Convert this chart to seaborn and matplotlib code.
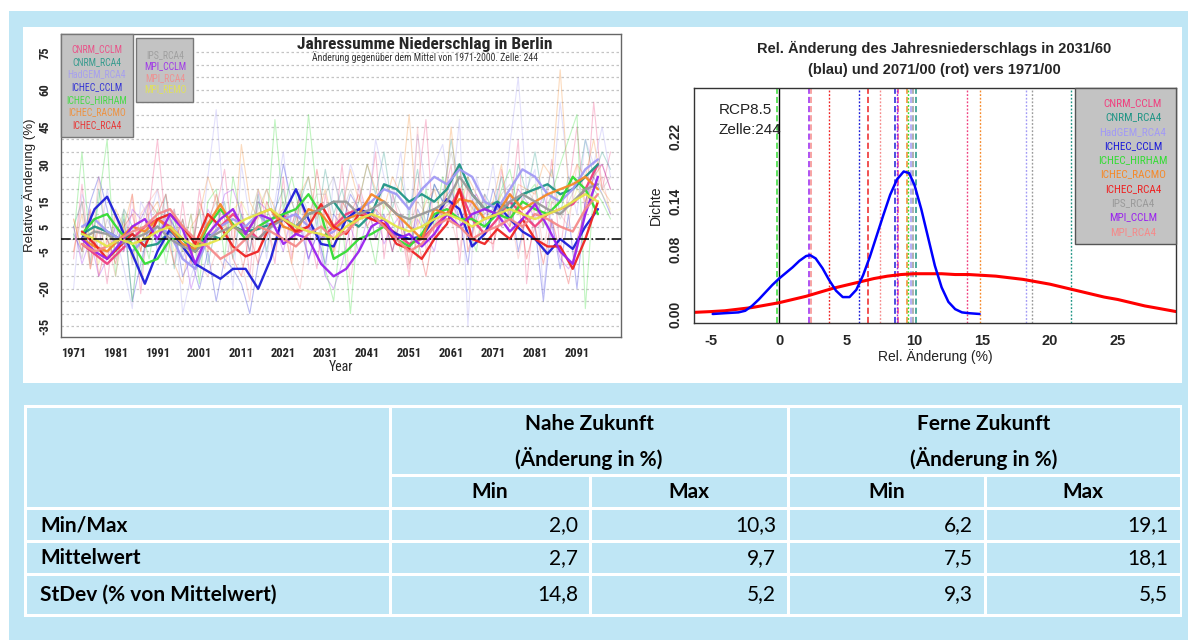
import numpy as np
import pandas as pd
import matplotlib
matplotlib.use('Agg')
import matplotlib.pyplot as plt
from matplotlib.patches import Rectangle
from matplotlib import font_manager as fm
import seaborn as sns

sns.set_style('white')
plt.rcParams['font.family'] = ['Liberation Sans', 'DejaVu Sans']
TAB = ['Lato', 'DejaVu Sans']

# schmale Schrift suchen (R-Grafiken nutzen Arial Narrow)
_namen = [f.name for f in fm.fontManager.ttflist]
NKW = dict(family=['Liberation Sans', 'DejaVu Sans'])
NSCALE = 0.86
for kand in ['Liberation Sans Narrow', 'Arial Narrow', 'Roboto Condensed', 'Open Sans Condensed']:
    if kand in _namen:
        NKW = dict(family=[kand, 'Liberation Sans'])
        NSCALE = 1.0
        break
else:
    if any(f.name == 'DejaVu Sans' and str(f.stretch) == 'condensed' for f in fm.fontManager.ttflist):
        NKW = dict(family=['DejaVu Sans'], fontstretch='condensed')
        NSCALE = 0.92

# ---------------- Daten ----------------
modelle = ['CNRM_CCLM', 'CNRM_RCA4', 'HadGEM_RCA4', 'ICHEC_CCLM', 'ICHEC_HIRHAM',
           'ICHEC_RACMO', 'ICHEC_RCA4', 'IPS_RCA4', 'MPI_CCLM', 'MPI_RCA4', 'MPI_REMO']
farben = ['#f0407f', '#1f9585', '#a29af5', '#1c1cd8', '#33dd33',
          '#f5892a', '#ee2222', '#9a9a9a', '#9a22ee', '#f58a8a', '#e6e64a']

# geglaettete Reihen (Linien, alle 3 Jahre ab 1973)
glatt_start = 1973
glatt_cnrm_cclm = [-2, -6, -10, -5, 0, 5, 8, 5, 0, -5, 0, 5, 10, 5, 0, 5, 10, 2, 5, 0, 5,
                   10, 12, 8, 6, 2, -2, 0, 5, 10, 20, 8, 2, 8, 15, 10, 5, 10, 12, 14, 20, 30]
glatt_cnrm_rca4 = [2, 5, 3, 0, 2, -3, -2, 3, 0, -5, 2, 0, 5, 3, 4, 6, 8, 5, 10, 12, 15,
                   8, 5, 10, 22, 20, 15, 18, 15, 20, 30, 18, 12, 15, 12, 18, 20, 22, 18, 20, 25, 30]
glatt_hadgem_rca4 = [5, 8, 3, 0, -5, 0, 5, 2, -8, -12, 0, 5, 8, 5, 10, 5, 8, 10, 5, 0, 3,
                     8, 12, 15, 20, 18, 12, 20, 25, 22, 28, 25, 15, 12, 20, 28, 25, 18, 15, 20, 28, 32]
glatt_ichec_cclm = [0, 12, 17, 6, -6, -18, -5, 4, -3, -10, -13, -16, -12, -12, -20, -8, 10, 20, 8, -2, -3,
                    8, 12, 10, 5, 2, 0, 1, 8, 16, 12, -3, 2, 14, 8, 3, 0, -6, 0, -4, 5, 12]
glatt_ichec_hirham = [2, 8, 10, 3, -2, -10, -8, 0, 0, -5, 5, 12, 6, 0, 5, 8, 10, 12, 18, 10, -8,
                      -5, 0, 2, 5, 0, -3, 2, 10, 12, 8, 8, 5, 10, 8, 15, 12, 10, 15, 25, 20, 10]
glatt_ichec_racmo = [0, -3, -5, 0, 5, 3, 8, 4, -2, -4, 6, 14, 5, 2, 10, 12, 5, 3, 12, 10, 4,
                     8, 10, 18, 15, 10, 5, 0, 12, 10, 16, 15, 8, 10, 18, 12, 15, 18, 20, 22, 25, 20]
glatt_ichec_rca4 = [3, -2, -8, -3, 2, -3, 8, 10, 5, -2, 10, 5, -3, -7, -5, 6, 8, 3, 5, 14, 5,
                    2, 10, 8, 6, -2, -4, -8, 0, 6, 20, 0, -2, 4, 0, 8, 0, -3, -3, -12, 0, 15]
glatt_ips_rca4 = [0, 3, 2, -2, 0, 2, 5, 0, -3, -5, 0, 3, 5, 2, 0, 5, 8, 5, 10, 12, 15,
                  15, 10, 12, 15, 10, 8, 10, 12, 15, 25, 18, 12, 10, 15, 18, 15, 12, 10, 15, 20, 22]
glatt_mpi_cclm = [0, -5, -8, -2, 5, 8, 0, 10, 4, -10, 2, 8, 12, 2, 10, 8, -2, 2, 0, -10, -15,
                  -12, -5, 5, 8, 0, 2, -3, 2, 10, 5, 10, 12, 10, 3, 8, 14, 5, -5, -10, 10, 25]
glatt_mpi_rca4 = [-2, -5, -3, 0, 3, 5, 10, 12, 5, 0, -3, -8, -5, 0, 5, 3, 0, -3, 2, 5, 0,
                  3, 8, 10, 5, 0, -5, -2, 5, 8, 5, 0, 3, 5, 8, 5, 10, 8, 5, 3, 12, 18]
glatt_mpi_remo = [2, 0, -3, 0, -2, 0, 3, 5, 0, -3, -2, 0, 5, 8, 10, 12, 8, 5, 3, 2, 0,
                  5, 8, 10, 8, 5, 3, 5, 8, 10, 8, 5, 8, 10, 12, 10, 8, 10, 12, 15, 18, 15]

# Jahreswerte (blasse Linien, alle 2 Jahre ab 1971)
roh_start = 1971
roh_cnrm_cclm = [-8, 22, -12, 5, -18, 10, -5, 18, -22, 12, 40, 5, -10, 15, -8, 20, -5, 12, 28, -2,
                 15, -15, 20, 8, -10, 25, -8, 15, 5, -12, 18, 0, 30, -5, 22, 10, 35, -8, 18, 5,
                 -15, 20, 48, 0, 15, 30, -10, 22, 5, 18, -5, 28, 10, 40, -18, 15, 5, 32, -5, 20,
                 45, 10, 55, 20, 35]
roh_cnrm_rca4 = [5, 15, -10, 20, 0, -8, 12, 5, -15, 8, 2, 18, -12, 8, -5, 12, -10, 5, 15, -8,
                 10, 0, 18, -5, 12, 20, 2, 15, 25, 5, 28, 10, 20, 5, 15, 30, 18, 35, 12, 25,
                 10, 28, 5, 22, 15, 40, 20, 25, 8, 18, 12, 25, 8, 30, 18, 35, 15, 28, 10, 25,
                 20, 40, 25, 35, 28]
roh_hadgem_rca4 = [-20, 18, 10, -5, 20, 2, -12, -28, 15, 8, 20, -5, 12, -30, -15, -5, 25, 52, 10, -20,
                   30, 8, 20, -8, 15, 35, 5, 18, -10, 10, -15, 25, 12, 30, 20, 8, 40, 25, 15, 35,
                   5, 42, 20, 30, 38, 15, 48, -35, 25, 12, 30, 5, 38, 65, 20, 28, -22, 15, 55, 25,
                   10, 40, 30, 45, 25]
roh_ichec_cclm = [2, -5, 15, 25, 12, -5, 8, -25, -10, 5, -2, 12, 5, -15, -8, -20, -5, -25, -8, -12,
                  -18, -30, -10, 0, 10, 30, 15, 5, -8, 2, -10, 10, 5, 18, 12, 15, 0, 10, -5, 8,
                  -5, 12, 5, 22, 15, 20, 8, -10, 15, 5, 20, 10, 18, -5, 10, 5, -25, 8, -12, 10,
                  -20, 15, 25, 18, 10]
roh_ichec_hirham = [0, 35, -5, 15, 40, -15, 10, -25, 5, -8, 12, -10, 8, -5, 10, -18, 15, 20, -8, 25,
                    8, -5, 15, 5, 48, 12, 25, 10, 50, 18, -12, -25, 8, -30, 10, 5, -10, 15, 8, -5,
                    10, -8, 20, 5, 25, 12, 30, 5, -5, 15, 8, 20, 28, 12, 18, 22, 5, 18, 30, 40,
                    50, -28, 20, 15, 8]
roh_ichec_racmo = [-5, 10, -12, 8, -8, 12, 5, 18, -5, 10, 15, 2, -10, -18, 5, 10, 25, 15, 5, -5,
                   38, 15, 8, 20, 12, 5, -10, 18, 25, 8, 20, 5, 12, 28, 15, 30, 20, 12, 25, 18,
                   50, 5, 15, 20, 8, 45, 10, 25, 18, 12, 15, 30, 5, 22, 20, 18, 30, 25, 68, 20,
                   30, 25, 40, 20, 15]
roh_ichec_rca4 = [8, -5, 12, -15, 0, -10, 5, 10, -5, 15, 10, 18, -2, 8, -10, 15, 5, 18, 8, -8,
                  -15, 2, -10, 15, 8, 12, 5, 18, 2, 28, 8, -5, 15, 10, 18, 5, 12, 8, -5, 10,
                  -10, 0, -15, 5, 12, 25, 30, -5, 8, 0, -2, 10, 5, 15, -8, 5, -10, 8, -5, -18,
                  0, 12, 25, 30, 20]
roh_ips_rca4 = [5, -8, 10, -5, 8, 0, 12, -10, 5, 15, 8, -5, 12, -8, 2, -10, 8, 15, 0, 10,
                5, -5, 12, 20, 8, 15, 0, 20, 10, 18, 18, 25, 10, 20, 12, 15, 8, 22, 18, 10,
                5, 15, 10, 20, 18, 35, 20, 15, 10, 12, 8, 18, 22, 12, 20, 15, 10, 18, 8, 15,
                22, 18, 28, 20, 25]
roh_mpi_cclm = [5, -10, 0, -15, -8, 5, -5, 12, 8, 15, -5, 10, 5, 0, -20, -8, 12, 5, 18, 20,
                10, -5, 15, 12, 5, -5, 10, 8, -8, 2, -15, -20, -10, 5, -5, 8, 12, -2, 5, 10,
                -5, 8, 2, -5, 12, 15, 8, 12, 18, 10, 12, 5, 10, 20, 15, 8, 18, 5, -8, -12,
                -5, 15, 28, 30, 20]
roh_mpi_rca4 = [-5, 15, -10, 25, 0, -15, 5, -8, 10, 15, 20, 8, 12, -5, 10, -10, -15, -5, -12, 5,
                -8, -25, 10, 5, -5, 8, -10, -20, 5, 15, 5, -8, 12, -18, 10, 15, 0, 8, 12, 5,
                -12, 45, -5, 10, 15, 8, -5, 20, 0, 10, 15, 5, 12, -8, 10, 20, -5, 15, 10, 5,
                30, 15, 20, 25, 10]
roh_mpi_remo = [8, -5, 5, -10, 2, -5, 5, -8, 3, -2, 5, 10, -5, 2, -8, 0, -5, 8, 5, 12,
                15, 8, 20, 12, 5, 10, 15, 5, 12, 0, 8, -5, 10, 5, 12, 15, 10, 5, 12, 8,
                5, 10, 2, 8, 15, 12, 5, 10, 15, 8, 12, 18, 8, 15, 10, 12, 8, 15, 18, 10,
                20, 15, 22, 18, 12]

glatt_reihen = [glatt_cnrm_cclm, glatt_cnrm_rca4, glatt_hadgem_rca4, glatt_ichec_cclm,
                glatt_ichec_hirham, glatt_ichec_racmo, glatt_ichec_rca4, glatt_ips_rca4,
                glatt_mpi_cclm, glatt_mpi_rca4, glatt_mpi_remo]
roh_reihen = [roh_cnrm_cclm, roh_cnrm_rca4, roh_hadgem_rca4, roh_ichec_cclm,
              roh_ichec_hirham, roh_ichec_racmo, roh_ichec_rca4, roh_ips_rca4,
              roh_mpi_cclm, roh_mpi_rca4, roh_mpi_remo]

# Dichtekurven (rechts)
blau_x = [-4.9, -4.0, -3.0, -2.5, -2.0, -1.5, -1.0, -0.5, 0.0, 0.5, 1.0, 1.5, 2.0, 2.3, 2.7, 3.2,
          3.7, 4.2, 4.7, 5.2, 5.7, 6.2, 6.7, 7.2, 7.7, 8.2, 8.7, 9.2, 9.6, 10.0, 10.5, 11.0,
          11.5, 12.0, 12.5, 13.0, 13.5, 14.0, 14.8]
blau_y = [0.000, 0.001, 0.002, 0.004, 0.010, 0.018, 0.027, 0.036, 0.044, 0.051, 0.058, 0.066,
          0.072, 0.073, 0.069, 0.057, 0.042, 0.029, 0.021, 0.021, 0.030, 0.048, 0.071, 0.097,
          0.123, 0.148, 0.167, 0.177, 0.175, 0.160, 0.130, 0.095, 0.060, 0.033, 0.015, 0.006,
          0.002, 0.001, 0.000]
rot_x = [-6.3, -5, -4, -3, -2, -1, 0, 1, 2, 3, 4, 5, 6, 7, 8, 9, 10, 11, 12, 13, 14, 15, 16,
         17, 18, 19, 20, 21, 22, 23, 24, 25, 26, 27, 28, 29.3]
rot_y = [0.002, 0.003, 0.004, 0.006, 0.008, 0.011, 0.014, 0.018, 0.022, 0.027, 0.032, 0.036,
         0.040, 0.044, 0.047, 0.049, 0.050, 0.050, 0.050, 0.049, 0.049, 0.048, 0.047, 0.045,
         0.043, 0.040, 0.037, 0.033, 0.029, 0.025, 0.021, 0.018, 0.014, 0.010, 0.007, 0.003]

# Modellmittel (senkrechte Linien): 2031/60 gestrichelt, 2071/00 gepunktet
nah_werte = [8.78, 10.1, 9.74, 8.58, -0.16, 9.45, 6.56, 9.89, 2.2, 2.38]
fern_werte = [13.9, 21.56, 18.26, 5.9, 9.5, 14.86, 3.66, 18.68, 8.7, 7.42]

# Tabelle
zeilen = ['Min/Max', 'Mittelwert', 'StDev (% von Mittelwert)']
nah_min = ['2,0', '2,7', '14,8']
nah_max = ['10,3', '9,7', '5,2']
fern_min = ['6,2', '7,5', '9,3']
fern_max = ['19,1', '18,1', '5,5']

# ---------------- Layout ----------------
W, H = 1188, 640
BG = '#bfe6f5'
fig = plt.figure(figsize=(W / 100, H / 100), dpi=100)
fig.patch.set_facecolor(BG)


def box(x0, y0, x1, y1):
    return [x0 / W, 1 - y1 / H, (x1 - x0) / W, (y1 - y0) / H]


def rect(x0, y0, x1, y1, **kw):
    fig.add_artist(Rectangle((x0 / W, 1 - y1 / H), (x1 - x0) / W, (y1 - y0) / H,
                             transform=fig.transFigure, **kw))


def ftext(x, y, s, **kw):
    fig.text(x / W, 1 - y / H, s, **kw)


rect(0, 0, W, 11, facecolor='white', edgecolor='none', zorder=-2)
rect(0, 0, 9, H, facecolor='white', edgecolor='none', zorder=-2)
rect(23, 27, 1182, 383, facecolor='white', edgecolor='none', zorder=-2)

# ---------------- links: Zeitreihen ----------------
ax1 = fig.add_axes(box(61, 34, 621, 337))
ax1.set_facecolor('white')
pal = dict(zip(modelle, farben))

roh_df = pd.concat([pd.DataFrame({'Jahr': roh_start + 2 * np.arange(len(r)), 'Wert': r, 'Modell': m})
                    for m, r in zip(modelle, roh_reihen)])
glatt_df = pd.concat([pd.DataFrame({'Jahr': glatt_start + 3 * np.arange(len(g)), 'Wert': g, 'Modell': m})
                      for m, g in zip(modelle, glatt_reihen)])

sns.lineplot(data=roh_df, x='Jahr', y='Wert', hue='Modell', palette=pal, estimator=None,
             lw=0.8, alpha=0.3, legend=False, ax=ax1)
sns.lineplot(data=glatt_df, x='Jahr', y='Wert', hue='Modell', palette=pal, estimator=None,
             lw=1.7, alpha=0.95, legend=False, ax=ax1)
ax1.axhline(0, color='black', ls='-.', lw=1.1, zorder=5)

ax1.set_xlim(1968, 2101.5)
ax1.set_ylim(-39.4, 82.4)
ax1.set_xticks(range(1971, 2092, 10))
ax1.set_xticklabels([str(j) for j in range(1971, 2092, 10)], fontweight='bold',
                    fontsize=9 * NSCALE, **NKW)
ytk = list(range(-35, 80, 5))
ylab_show = [75, 60, 45, 30, 15, 5, -5, -20, -35]
ax1.set_yticks(ytk)
ax1.set_yticklabels([str(v) if v in ylab_show else '' for v in ytk], rotation=90,
                    va='center', fontweight='bold', fontsize=9 * NSCALE, **NKW)
ax1.yaxis.grid(True, linestyle=(0, (2, 2)), color='#c4c4c4', lw=0.9)
ax1.xaxis.grid(False)
ax1.tick_params(axis='both', direction='out', length=4, width=0.8, color='#444', pad=3)
ax1.set_xlabel('Year', fontsize=10 * NSCALE, labelpad=0, **NKW)
ax1.set_ylabel('Relative Änderung (%)', fontsize=9.5, labelpad=2, color='#222')
for s in ax1.spines.values():
    s.set_color('#666')
    s.set_linewidth(1.0)

ftext(425, 45, 'Jahressumme Niederschlag in Berlin', ha='center', va='center',
      fontweight='bold', fontsize=12.5 * NSCALE, **NKW)
ftext(425, 57, 'Änderung gegenüber dem Mittel von 1971-2000. Zelle: 244', ha='center',
      va='center', fontsize=7 * NSCALE, color='#333', **NKW)

# Legendenkaesten links
rect(61, 34, 133, 137, facecolor='#c3c3c3', edgecolor='#777', lw=1, zorder=6)
rect(136, 38, 193, 102, facecolor='#c3c3c3', edgecolor='#777', lw=1, zorder=6)
for i, (m, c) in enumerate(zip(modelle[:7], farben[:7])):
    ftext(97, 49 + 12.7 * i, m, ha='center', va='center', fontsize=7 * NSCALE,
          color=c, alpha=0.85, zorder=7, **NKW)
for i, (m, c) in enumerate(zip(modelle[7:], farben[7:])):
    ftext(165, 55 + 11.3 * i, m, ha='center', va='center', fontsize=7 * NSCALE,
          color=c, alpha=0.85, zorder=7, **NKW)

# ---------------- rechts: Dichte ----------------
ax2 = fig.add_axes(box(694, 88, 1176, 323))
ax2.set_facecolor('white')
ax2.axvline(0, color='black', lw=1.0)
for v, c in zip(nah_werte, farben[:10]):
    ax2.axvline(v, color=c, lw=1.1, ls=(0, (4, 2)))
for v, c in zip(fern_werte, farben[:10]):
    ax2.axvline(v, color=c, lw=1.0, ls=(0, (1.3, 1.3)))
sns.lineplot(x=rot_x, y=rot_y, color='#ff0000', lw=2.2, ax=ax2)
sns.lineplot(x=blau_x, y=blau_y, color='#0000ff', lw=1.8, ax=ax2)

ax2.set_xlim(-6.28, 29.3)
ax2.set_ylim(-0.0112, 0.2807)
ax2.set_xticks([-5, 0, 5, 10, 15, 20, 25])
ax2.set_xticklabels(['-5', '0', '5', '10', '15', '20', '25'], fontweight='bold', fontsize=10.5)
ytk2 = [0.0, 0.03, 0.05, 0.08, 0.11, 0.14, 0.16, 0.19, 0.22, 0.27]
ax2.set_yticks(ytk2)
ax2.set_yticklabels(['0.00', '', '', '0.08', '', '0.14', '', '', '0.22', ''], rotation=90,
                    va='center', fontweight='bold', fontsize=10)
ax2.tick_params(axis='both', direction='out', length=5, width=0.8, color='black', pad=3)
ax2.set_xlabel('Rel. Änderung (%)', fontsize=10, labelpad=1, color='#222')
ax2.set_ylabel('Dichte', fontsize=10, labelpad=4, color='#222')
for s in ax2.spines.values():
    s.set_color('#333')
    s.set_linewidth(1.0)
ax2.text(-4.45, 0.253, 'RCP8.5', fontsize=11, va='center', color='#222')
ax2.text(-4.45, 0.228, 'Zelle:244', fontsize=11, va='center', color='#222')

ftext(934, 48, 'Rel. Änderung des Jahresniederschlags in 2031/60', ha='center', va='center',
      fontweight='bold', fontsize=10.5)
ftext(934, 70, '(blau) und 2071/00 (rot) vers 1971/00', ha='center', va='center',
      fontweight='bold', fontsize=10.5)

rect(1075, 88, 1176, 244, facecolor='#c3c3c3', edgecolor='#555', lw=1, zorder=6)
for i, (m, c) in enumerate(zip(modelle[:10], farben[:10])):
    ftext(1133, 103 + 14.3 * i, m, ha='center', va='center', fontsize=8 * NSCALE,
          color=c, zorder=7, **NKW)

# ---------------- Tabelle ----------------
axt = fig.add_axes(box(24, 405, 1182, 617))
axt.set_xlim(24, 1182)
axt.set_ylim(617, 405)
axt.axis('off')
axt.add_patch(Rectangle((24, 405), 1158, 212, facecolor='white', edgecolor='none'))

sp = [27, 390, 590, 788, 985, 1180]
zb = [408, 475.5, 508.5, 541.5, 574.5, 614]
g = 1.5


def zelle(x0, x1, y0, y1):
    axt.add_patch(Rectangle((x0 + g, y0 + g), x1 - x0 - 2 * g, y1 - y0 - 2 * g,
                            facecolor=BG, edgecolor='none'))


zelle(sp[0] - g, sp[1], zb[0] - g, zb[2])
zelle(sp[1], sp[3], zb[0] - g, zb[1])
zelle(sp[3], sp[5] + g, zb[0] - g, zb[1])
for r in range(1, 5):
    y0 = zb[r]
    y1 = zb[r + 1] + (g if r == 4 else 0)
    for c in range(5):
        if r == 1 and c == 0:
            continue
        x0 = sp[c] - (g if c == 0 else 0)
        x1 = sp[c + 1] + (g if c == 4 else 0)
        zelle(x0, x1, y0, y1)

kw = dict(family=TAB, fontsize=15, color='black')
for cx, titel in [((sp[1] + sp[3]) / 2, 'Nahe Zukunft'), ((sp[3] + sp[5]) / 2, 'Ferne Zukunft')]:
    axt.text(cx, 424, titel, ha='center', va='center', fontweight='bold', **kw)
    axt.text(cx, 459, '(Änderung in %)', ha='center', va='center', fontweight='bold', **kw)
for c in range(1, 5):
    axt.text((sp[c] + sp[c + 1]) / 2, 492, 'Min' if c % 2 else 'Max', ha='center',
             va='center', fontweight='bold', **kw)
spalten = [nah_min, nah_max, fern_min, fern_max]
for r, name in enumerate(zeilen):
    yc = (zb[r + 2] + zb[r + 3]) / 2
    axt.text(40, yc, name, ha='left', va='center', fontweight='bold', **kw)
    for c, werte in enumerate(spalten):
        axt.text(sp[c + 2] - 12, yc, werte[r], ha='right', va='center', **kw)

fig.savefig('out.png', dpi=100, facecolor=BG)
